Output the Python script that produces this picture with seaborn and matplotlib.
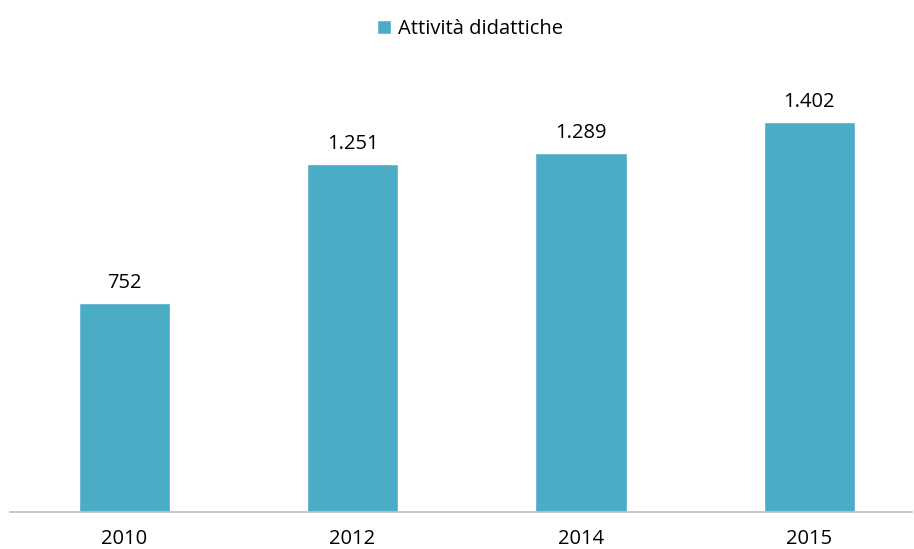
import pandas as pd
import matplotlib.pyplot as plt
import seaborn as sns

# Data
years = ["2010", "2012", "2014", "2015"]
values = [752, 1251, 1289, 1402]
labels = ["752", "1.251", "1.289", "1.402"]
series_name = "Attività didattiche"

df = pd.DataFrame({"anno": years, "valore": values, "serie": series_name})

sns.set_style("white")
plt.rcParams["font.family"] = ["Open Sans", "DejaVu Sans"]

fig = plt.figure(figsize=(9.14, 5.49), dpi=100)
# axes area in pixels: left 10, right 912, bottom 512, top 67
ax = fig.add_axes([10 / 914, (549 - 512) / 549, 902 / 914, (512 - 67) / 549])

sns.barplot(data=df, x="anno", y="valore", hue="serie", color="#4BACC6",
            palette=["#4BACC6"], width=0.4, ax=ax, saturation=1)

ax.set_ylim(0, 1600)
ax.set_xlim(-0.5, 3.45)

# value labels
for i, (v, lab) in enumerate(zip(values, labels)):
    ax.text(i, v + 36, lab, ha="center", va="bottom", fontsize=14.5, color="#000000")

ax.set_xlabel("")
ax.set_ylabel("")
ax.set_yticks([])
ax.tick_params(axis="x", length=0, labelsize=14.5, pad=12, colors="#000000")
for s in ["top", "right", "left"]:
    ax.spines[s].set_visible(False)
ax.spines["bottom"].set_color("#BFBFBF")
ax.spines["bottom"].set_linewidth(1.2)

leg = ax.legend(loc="upper center", bbox_to_anchor=(0.5 + 9 / 902, 1.0 + 66 / 445),
                frameon=False, fontsize=14.5, handlelength=0.65, handleheight=0.65,
                handletextpad=0.35)
for t in leg.get_texts():
    t.set_color("#000000")

fig.savefig("out.png", dpi=100)
